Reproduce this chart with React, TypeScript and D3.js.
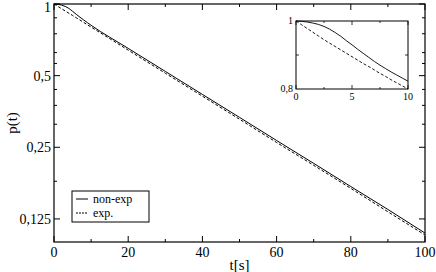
import React, { useRef, useEffect } from 'react';
import * as d3 from 'd3';

// main plot data
const tMain = [0, 1, 2, 3, 4, 5, 6, 7, 8, 9, 10, 20, 30, 40, 50, 60, 70, 80, 90, 100];
const nonExpMain = [1, 0.997, 0.99, 0.977, 0.958, 0.932, 0.905, 0.88, 0.857, 0.835, 0.814, 0.651, 0.521, 0.417, 0.334, 0.267, 0.214, 0.171, 0.137, 0.109];
const expMain = [1, 0.978, 0.956, 0.935, 0.915, 0.895, 0.875, 0.856, 0.837, 0.818, 0.8, 0.64, 0.512, 0.41, 0.328, 0.262, 0.21, 0.168, 0.134, 0.107];

// inset data
const tInset = [0, 0.5, 1, 1.5, 2, 2.5, 3, 3.5, 4, 4.5, 5, 5.5, 6, 6.5, 7, 7.5, 8, 8.5, 9, 9.5, 10];
const nonExpInset = [1, 0.999, 0.997, 0.994, 0.99, 0.984, 0.976, 0.966, 0.955, 0.942, 0.93, 0.917, 0.905, 0.893, 0.881, 0.87, 0.86, 0.85, 0.841, 0.832, 0.823];
const expInset = [1, 0.989, 0.978, 0.967, 0.956, 0.945, 0.935, 0.925, 0.915, 0.905, 0.895, 0.885, 0.875, 0.866, 0.856, 0.846, 0.837, 0.827, 0.818, 0.809, 0.8];

const xTicks = [0, 20, 40, 60, 80, 100];
const xMinor = [10, 30, 50, 70, 90];
const yTicks = [1, 0.5, 0.25, 0.125];
const yTickLabels = ['1', '0,5', '0,25', '0,125'];
const yMinor = [0.875, 0.75, 0.625, 0.5625, 0.4375, 0.375, 0.3125, 0.18];

const insetXTicks = [0, 5, 10];
const insetXMinor = [2.5, 7.5];
const insetYTicks = [0.8, 1];
const insetYTickLabels = ['0,8', '1'];
const insetYMinor = [0.9];

const W = 436;
const H = 272;
const font = "'Liberation Serif', 'DejaVu Serif', serif";

const App: React.FC = () => {
  const svgRef = useRef<SVGSVGElement>(null);

  useEffect(() => {
    if (!svgRef.current) return;
    const svg = d3.select(svgRef.current);
    svg.selectAll('*').remove();

    svg.append('rect').attr('width', W).attr('height', H).attr('fill', '#fff');

    const box = { left: 54, right: 425, top: 4, bottom: 242 };
    const x = d3.scaleLinear().domain([0, 100]).range([box.left, box.right]);
    const y = d3.scaleLog().base(2).domain([0.1, 1]).range([box.bottom, box.top]);

    const g = svg.append('g');

    // ticks (inward, all four sides)
    const tick = (x1: number, y1: number, x2: number, y2: number) =>
      g.append('line').attr('x1', x1).attr('y1', y1).attr('x2', x2).attr('y2', y2)
        .attr('stroke', '#000').attr('stroke-width', 1);

    xTicks.forEach((v) => {
      tick(x(v), box.bottom, x(v), box.bottom - 6);
      tick(x(v), box.top, x(v), box.top + 6);
    });
    xMinor.forEach((v) => {
      tick(x(v), box.bottom, x(v), box.bottom - 3);
      tick(x(v), box.top, x(v), box.top + 3);
    });
    yTicks.forEach((v) => {
      tick(box.left, y(v), box.left + 6, y(v));
      tick(box.right, y(v), box.right - 6, y(v));
    });
    yMinor.forEach((v) => {
      tick(box.left, y(v), box.left + 3, y(v));
      tick(box.right, y(v), box.right - 3, y(v));
    });

    // frame
    g.append('rect')
      .attr('x', box.left).attr('y', box.top)
      .attr('width', box.right - box.left).attr('height', box.bottom - box.top)
      .attr('fill', 'none').attr('stroke', '#000').attr('stroke-width', 1.2);

    // tick labels
    g.selectAll('.xl').data(xTicks).enter().append('text')
      .attr('x', (d) => x(d)).attr('y', 257)
      .attr('text-anchor', 'middle').attr('font-family', font).attr('font-size', 14)
      .text((d) => String(d));

    g.selectAll('.yl').data(yTicks).enter().append('text')
      .attr('x', box.left - 3).attr('y', (d) => Math.max(y(d) + 5, 12))
      .attr('text-anchor', 'end').attr('font-family', font).attr('font-size', 14)
      .text((d, i) => yTickLabels[i]);

    // axis titles
    g.append('text').attr('x', (box.left + box.right) / 2).attr('y', 270)
      .attr('text-anchor', 'middle').attr('font-family', font).attr('font-size', 15)
      .text('t[s]');
    g.append('text').attr('transform', `translate(17,${(box.top + box.bottom) / 2}) rotate(-90)`)
      .attr('text-anchor', 'middle').attr('font-family', font).attr('font-size', 15)
      .text('p(t)');

    // curves
    const lineMain = d3.line<number>().x((d, i) => x(tMain[i])).y((d) => y(d)).curve(d3.curveMonotoneX);
    g.append('path').attr('d', lineMain(nonExpMain)).attr('fill', 'none').attr('stroke', '#000').attr('stroke-width', 1);
    g.append('path').attr('d', lineMain(expMain)).attr('fill', 'none').attr('stroke', '#000')
      .attr('stroke-width', 1).attr('stroke-dasharray', '3,2');

    // legend
    const lg = g.append('g');
    lg.append('rect').attr('x', 72).attr('y', 191).attr('width', 77).attr('height', 31)
      .attr('fill', '#fff').attr('stroke', '#000').attr('stroke-width', 1);
    lg.append('line').attr('x1', 76).attr('x2', 88).attr('y1', 199).attr('y2', 199)
      .attr('stroke', '#000').attr('stroke-width', 1);
    lg.append('line').attr('x1', 76).attr('x2', 88).attr('y1', 213).attr('y2', 213)
      .attr('stroke', '#000').attr('stroke-width', 1).attr('stroke-dasharray', '2,1');
    lg.append('text').attr('x', 93).attr('y', 203).attr('font-family', font).attr('font-size', 12).text('non-exp');
    lg.append('text').attr('x', 93).attr('y', 217).attr('font-family', font).attr('font-size', 12).text('exp.');

    // inset
    const ib = { left: 296, right: 408, top: 21, bottom: 89 };
    const ix = d3.scaleLinear().domain([0, 10]).range([ib.left, ib.right]);
    const iy = d3.scaleLinear().domain([0.8, 1]).range([ib.bottom, ib.top]);
    const ig = svg.append('g');
    ig.append('rect').attr('x', ib.left).attr('y', ib.top)
      .attr('width', ib.right - ib.left).attr('height', ib.bottom - ib.top)
      .attr('fill', '#fff').attr('stroke', '#000').attr('stroke-width', 1);
    const itick = (x1: number, y1: number, x2: number, y2: number) =>
      ig.append('line').attr('x1', x1).attr('y1', y1).attr('x2', x2).attr('y2', y2)
        .attr('stroke', '#000').attr('stroke-width', 0.8);
    insetXTicks.forEach((v) => {
      itick(ix(v), ib.bottom, ix(v), ib.bottom - 4);
      itick(ix(v), ib.top, ix(v), ib.top + 4);
    });
    insetXMinor.forEach((v) => {
      itick(ix(v), ib.bottom, ix(v), ib.bottom - 2);
      itick(ix(v), ib.top, ix(v), ib.top + 2);
    });
    insetYMinor.forEach((v) => {
      itick(ib.left, iy(v), ib.left + 3, iy(v));
      itick(ib.right, iy(v), ib.right - 3, iy(v));
    });
    ig.selectAll('.ixl').data(insetXTicks).enter().append('text')
      .attr('x', (d) => ix(d)).attr('y', 100)
      .attr('text-anchor', 'middle').attr('font-family', font).attr('font-size', 10)
      .text((d) => String(d));
    ig.selectAll('.iyl').data(insetYTicks).enter().append('text')
      .attr('x', ib.left - 3).attr('y', (d) => iy(d) + 3)
      .attr('text-anchor', 'end').attr('font-family', font).attr('font-size', 10)
      .text((d, i) => insetYTickLabels[i]);

    const lineInset = d3.line<number>().x((d, i) => ix(tInset[i])).y((d) => iy(d)).curve(d3.curveMonotoneX);
    ig.append('path').attr('d', lineInset(nonExpInset)).attr('fill', 'none').attr('stroke', '#000').attr('stroke-width', 0.9);
    ig.append('path').attr('d', lineInset(expInset)).attr('fill', 'none').attr('stroke', '#000')
      .attr('stroke-width', 0.9).attr('stroke-dasharray', '3,2');
  }, []);

  return (
    <div style={{ position: 'absolute', left: 0, top: 0 }}>
      <svg ref={svgRef} width={W} height={H} style={{ display: 'block' }} />
    </div>
  );
};

export default App;
